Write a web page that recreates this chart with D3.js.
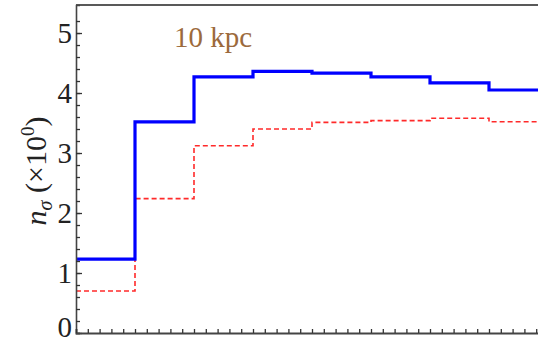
<!DOCTYPE html>
<html>
<head>
<meta charset="utf-8">
<script src="https://cdn.jsdelivr.net/npm/d3@7"></script>
<style>
  body { margin: 0; background: #fff; }
  svg { display: block; }
  text { font-family: "Liberation Serif", "DejaVu Serif", serif; }
</style>
</head>
<body>
<svg id="chart" width="538" height="343"></svg>
<script>
// Bin edges (one unit per bin), last bin is cut by the right edge
const binEdges = [0, 1, 2, 3, 4, 5, 6, 7, 8];
// Solid blue histogram
const blueValues = [1.23, 3.52, 4.27, 4.36, 4.33, 4.27, 4.17, 4.05];
// Dashed red histogram
const redValues = [0.70, 2.24, 3.12, 3.40, 3.51, 3.54, 3.58, 3.52];
const yTickLabels = [0, 1, 2, 3, 4, 5];
const title = "10 kpc";

const svg = d3.select('#chart');

// Scales
const x = d3.scaleLinear().domain([0, 8]).range([76, 548]);
const y = d3.scaleLinear().domain([0, 5.467]).range([333, 5]);

// Turn bins into step points
let stepPoints = (vals) => {
    let pts = vals.map((v, i) => [binEdges[i], v]);
    pts.push([binEdges[vals.length], vals[vals.length - 1]]);
    return pts;
};

const line = d3.line()
    .x(d => x(d[0]))
    .y(d => y(d[1]))
    .curve(d3.curveStepAfter);

// Red dashed series
svg.append('path')
    .attr('d', line(stepPoints(redValues)))
    .attr('fill', 'none')
    .attr('stroke', '#ff2a2a')
    .attr('stroke-width', 1.6)
    .attr('stroke-dasharray', '5,3');

// Blue solid series
svg.append('path')
    .attr('d', line(stepPoints(blueValues)))
    .attr('fill', 'none')
    .attr('stroke', '#0000ff')
    .attr('stroke-width', 3.2);

// Top frame
svg.append('line')
    .attr('x1', x(0)).attr('x2', 538)
    .attr('y1', y.range()[1]).attr('y2', y.range()[1])
    .attr('stroke', '#222').attr('stroke-width', 1.4);

// Left axis: minor ticks every 0.2, inward
const yAxis = d3.axisRight(y)
    .tickValues(d3.range(0, 27).map(i => i * 0.2))
    .tickSize(4)
    .tickFormat('');
svg.append('g')
    .attr('transform', `translate(${x(0)},0)`)
    .call(yAxis)
    .call(g => g.select('.domain').attr('stroke', '#444').attr('stroke-width', 1.6))
    .call(g => g.selectAll('.tick line').attr('stroke', '#333').attr('stroke-width', 1.3));

// Major ticks at integers, slightly longer
svg.append('g')
    .attr('transform', `translate(${x(0)},0)`)
    .call(d3.axisRight(y).tickValues(yTickLabels).tickSize(6).tickFormat(''))
    .call(g => g.select('.domain').remove())
    .call(g => g.selectAll('.tick line').attr('stroke', '#333').attr('stroke-width', 1.3));

// Y tick labels (the 0 is nudged up so it stays inside the picture)
svg.selectAll('.ylab')
    .data(yTickLabels)
    .enter().append('text')
    .attr('class', 'ylab')
    .attr('x', x(0) - 4)
    .attr('y', d => y(d) - (d === 0 ? 6 : 0))
    .attr('dy', '0.35em')
    .attr('text-anchor', 'end')
    .style('font-size', '29px')
    .style('fill', '#222')
    .text(d => d);

// Bottom axis: ticks every 0.2, inward
const xAxis = d3.axisTop(x)
    .tickValues(d3.range(0, 41).map(i => i * 0.2))
    .tickSize(4)
    .tickFormat('');
svg.append('g')
    .attr('transform', `translate(0,${y(0)})`)
    .call(xAxis)
    .call(g => g.select('.domain').attr('stroke', '#444').attr('stroke-width', 1.8))
    .call(g => g.selectAll('.tick line').attr('stroke', '#333').attr('stroke-width', 1.3));

// Y axis title
const yTitle = svg.append('text')
    .attr('transform', `translate(46,171) rotate(-90)`)
    .attr('text-anchor', 'middle')
    .style('font-size', '30px')
    .style('fill', '#222');
yTitle.append('tspan').style('font-style', 'italic').text('n');
yTitle.append('tspan').style('font-style', 'italic').style('font-size', '20px').attr('dy', 6).text('σ');
yTitle.append('tspan').attr('dy', -6).text(' (×10');
yTitle.append('tspan').style('font-size', '19px').attr('dy', -12).text('0');
yTitle.append('tspan').attr('dy', 12).text(')');

// Title label
svg.append('text')
    .attr('x', 174)
    .attr('y', 47)
    .style('font-size', '29px')
    .style('fill', '#9c6a3c')
    .text(title);
</script>
</body>
</html>
